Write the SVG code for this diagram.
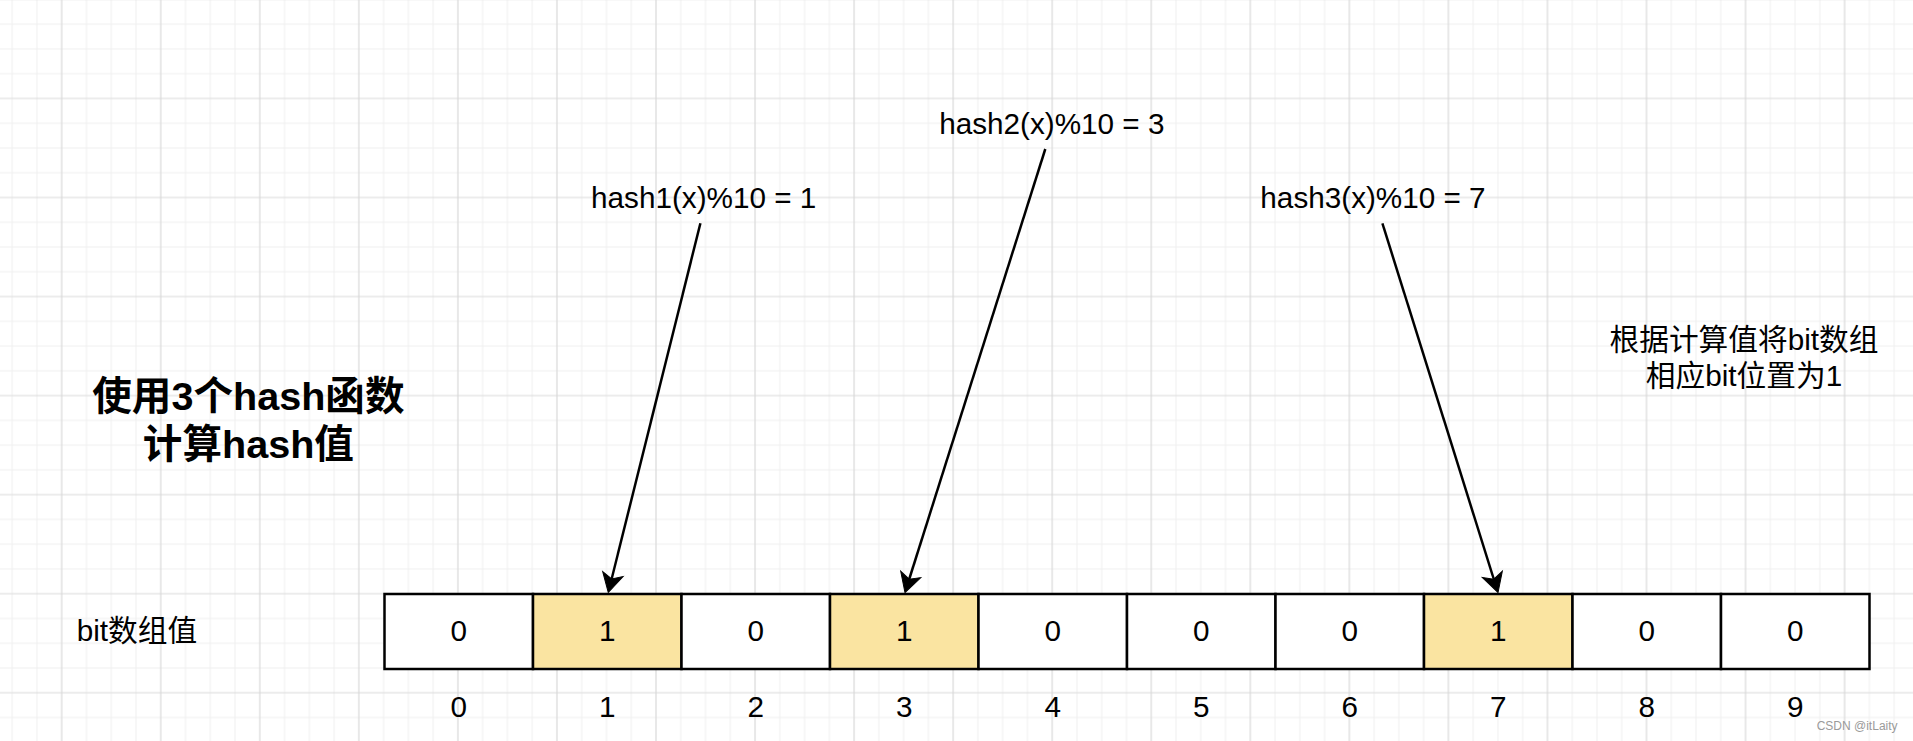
<svg xmlns="http://www.w3.org/2000/svg" width="1913" height="741" viewBox="0 0 1913 741">
<defs>
<pattern id="grid" x="61.7" y="-0.6" width="99.05" height="99.05" patternUnits="userSpaceOnUse">
<path d="M24.76 0V99.05M49.53 0V99.05M74.29 0V99.05M0 24.76H99.05M0 49.53H99.05M0 74.29H99.05" stroke="#efefef" stroke-width="1" fill="none"/>
<path d="M0 0V99.05M99.05 0V99.05M0 0H99.05M0 99.05H99.05" stroke="#d9d9d9" stroke-width="1.2" fill="none"/>
</pattern>
<marker id="arrow" viewBox="-12 -12 24 24" refX="0" refY="0" markerWidth="24" markerHeight="24" markerUnits="userSpaceOnUse" orient="auto" overflow="visible">
<path d="M10,0 L-9,-10.5 L-4,0 L-9,10.5 Z" fill="#000" stroke="#000" stroke-width="1" stroke-linejoin="miter"/>
</marker>
</defs>
<style>
.t{font-family:'Liberation Sans','Noto Sans CJK SC',sans-serif;font-size:29.7px;fill:#000;}
.c{text-anchor:middle;}
.b{font-weight:bold;font-size:39.6px;}
.cell{stroke:#000;stroke-width:2.5;fill:#fff;}
.on{fill:#fae4a1;}
.edge{stroke:#000;stroke-width:2.5;fill:none;marker-end:url(#arrow);}
.wm{font-family:'Liberation Sans',sans-serif;font-size:12px;fill:#9a9a9a;}
</style>
<rect x="0" y="0" width="1913" height="741" fill="#fff"/>
<rect x="0" y="0" width="1913" height="741" fill="url(#grid)"/>

<g id="title">
<text class="t c b" x="248.4" y="410">使用3个hash函数</text>
<text class="t c b" x="248.4" y="457.5">计算hash值</text>
</g>
<g id="note">
<text class="t c" x="1744" y="350">根据计算值将bit数组</text>
<text class="t c" x="1744" y="385.6">相应bit位置为1</text>
</g>
<g id="row-label">
<text class="t" x="76.7" y="641">bit数组值</text>
</g>
<g id="hash1"><text class="t c" x="703.7" y="207.5">hash1(x)%10 = 1</text></g>
<g id="hash2"><text class="t c" x="1051.8" y="133.5">hash2(x)%10 = 3</text></g>
<g id="hash3"><text class="t c" x="1373" y="207.5">hash3(x)%10 = 7</text></g>

<g id="cell0"><rect class="cell" x="384.5" y="594" width="148.5" height="75"/><text class="t c" x="458.75" y="641">0</text><text class="t c" x="458.75" y="717">0</text></g>
<g id="cell1"><rect class="cell on" x="533" y="594" width="148.5" height="75"/><text class="t c" x="607.25" y="641">1</text><text class="t c" x="607.25" y="717">1</text></g>
<g id="cell2"><rect class="cell" x="681.5" y="594" width="148.5" height="75"/><text class="t c" x="755.75" y="641">0</text><text class="t c" x="755.75" y="717">2</text></g>
<g id="cell3"><rect class="cell on" x="830" y="594" width="148.5" height="75"/><text class="t c" x="904.25" y="641">1</text><text class="t c" x="904.25" y="717">3</text></g>
<g id="cell4"><rect class="cell" x="978.5" y="594" width="148.5" height="75"/><text class="t c" x="1052.75" y="641">0</text><text class="t c" x="1052.75" y="717">4</text></g>
<g id="cell5"><rect class="cell" x="1127" y="594" width="148.5" height="75"/><text class="t c" x="1201.25" y="641">0</text><text class="t c" x="1201.25" y="717">5</text></g>
<g id="cell6"><rect class="cell" x="1275.5" y="594" width="148.5" height="75"/><text class="t c" x="1349.75" y="641">0</text><text class="t c" x="1349.75" y="717">6</text></g>
<g id="cell7"><rect class="cell on" x="1424" y="594" width="148.5" height="75"/><text class="t c" x="1498.25" y="641">1</text><text class="t c" x="1498.25" y="717">7</text></g>
<g id="cell8"><rect class="cell" x="1572.5" y="594" width="148.5" height="75"/><text class="t c" x="1646.75" y="641">0</text><text class="t c" x="1646.75" y="717">8</text></g>
<g id="cell9"><rect class="cell" x="1721" y="594" width="148.5" height="75"/><text class="t c" x="1795.25" y="641">0</text><text class="t c" x="1795.25" y="717">9</text></g>

<g id="connectors">
<path class="edge" d="M700.4 223.3 L610.7 582.8"/>
<path class="edge" d="M1045.3 149 L908 583"/>
<path class="edge" d="M1382.4 223.3 L1495 583"/>
</g>

<text class="wm" x="1816.7" y="729.5">CSDN @itLaity</text>
</svg>
